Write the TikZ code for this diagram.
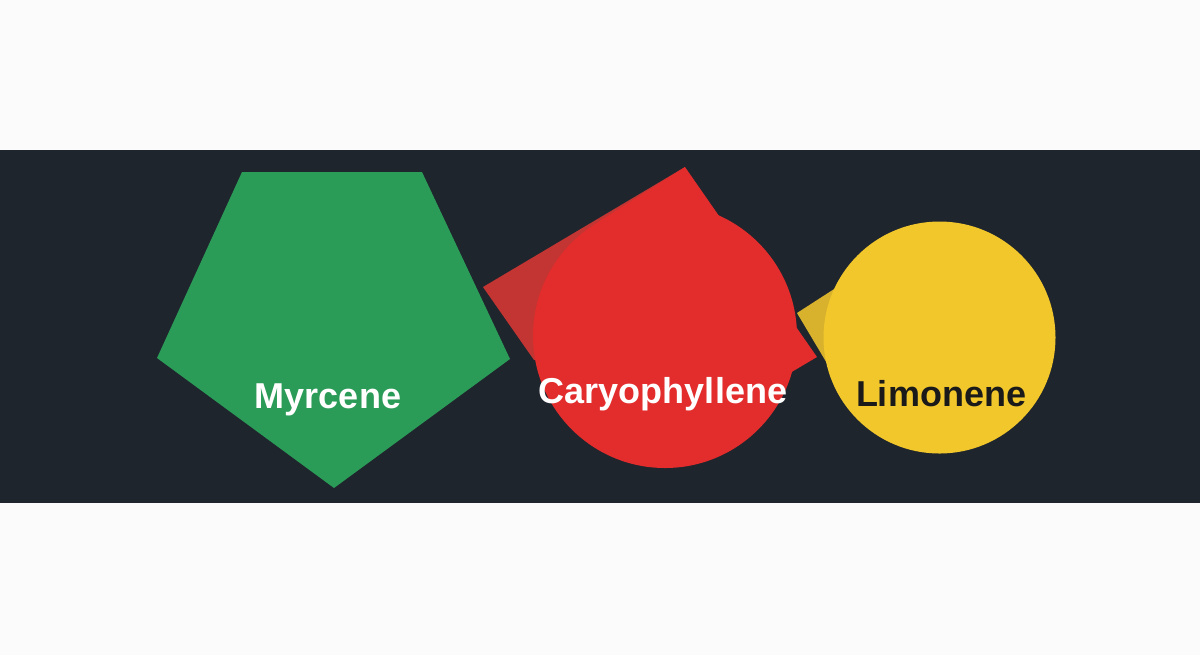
\documentclass[tikz,border=0pt]{standalone}
\usepackage{fontspec}
\setmainfont{Liberation Sans}
\definecolor{bgwhite}{HTML}{FBFBFB}
\definecolor{band}{HTML}{1F252D}
\definecolor{mgreen}{HTML}{2B9B58}
\definecolor{mred}{HTML}{E32C2C}
\definecolor{mreddark}{HTML}{C33532}
\definecolor{myellow}{HTML}{F2C72C}
\definecolor{myellowdark}{HTML}{D9B22D}
\definecolor{ltext}{HTML}{1A1A1A}
\tikzset{
  label text/.style={font=\fontsize{18pt}{21pt}\selectfont\bfseries, anchor=base, inner sep=0pt},
}
\begin{document}
\begin{tikzpicture}[x=0.5pt,y=-0.5pt]
\useasboundingbox (0,0) rectangle (1200,655);
\fill[bgwhite] (0,0) rectangle (1200,655);
\fill[band] (0,150) rectangle (1200,503);
% green pentagon
\fill[mgreen] (242,172) -- (422,172) -- (510,359) -- (334,488) -- (157,358) -- cycle;
% red shape
\coordinate (rT) at (685,167);
\coordinate (rL) at (483,287);
\coordinate (rR) at (817,357);
\coordinate (rC) at (665,336);
\fill[mreddark] (rT) -- (rL) -- (534,360) -- (rC) -- cycle;
\fill[mred] (rT) -- (594.3,224.5) -- (rC) -- (792,371.8) -- (rR) -- cycle;
\fill[mred] (rC) circle[radius=132];
% yellow shape
\coordinate (yC) at (939.5,337.5);
\fill[myellowdark] (797,313) -- (845,282) -- (828,365) -- cycle;
\fill[myellow] (yC) circle[radius=116];
% labels
\node[label text, text=white] (myrcene) at (328,408) {Myrcene};
\node[label text, text=white] (caryo) at (663,403) {Caryophyllene};
\node[label text, text=ltext] (limonene) at (941,406) {Limonene};
\end{tikzpicture}
\end{document}
